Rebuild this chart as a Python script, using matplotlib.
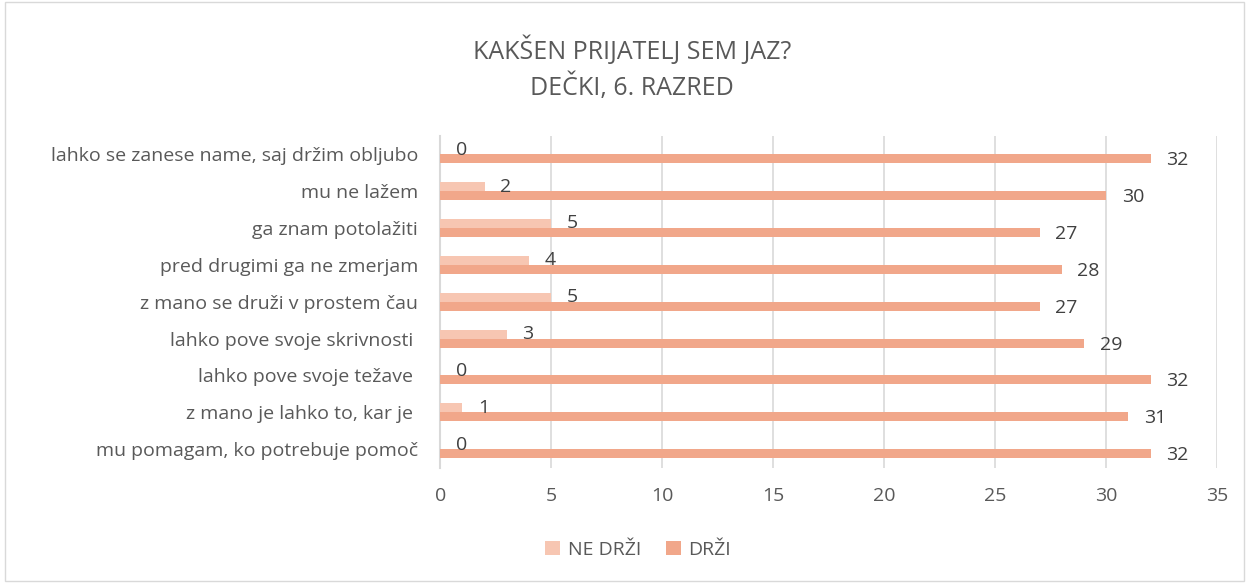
import numpy as np
import matplotlib.pyplot as plt
from matplotlib.patches import Rectangle

categories = ['lahko se zanese name, saj držim obljubo', 'mu ne lažem', 'ga znam potolažiti',
              'pred drugimi ga ne zmerjam', 'z mano se druži v prostem čau',
              'lahko pove svoje skrivnosti ', 'lahko pove svoje težave ',
              'z mano je lahko to, kar je ', 'mu pomagam, ko potrebuje pomoč']
ne_drzi = [0, 2, 5, 4, 5, 3, 0, 1, 0]
drzi = [32, 30, 27, 28, 27, 29, 32, 31, 32]

plt.rcParams['font.family'] = ['Open Sans', 'DejaVu Sans']
text_col = '#404040'
fs = 14

fig = plt.figure(figsize=(12.49, 5.83), dpi=100)
ax = fig.add_axes([0.3525, 0.198, 0.622, 0.569])

y = np.arange(len(categories))
h = 0.244
ax.barh(y - h / 2, ne_drzi, height=h, color='#F7C6B2', label='NE DRŽI', zorder=3)
ax.barh(y + h / 2, drzi, height=h, color='#F1A78A', label='DRŽI', zorder=3)

for i in range(len(categories)):
    ax.text(ne_drzi[i] + 0.7, y[i] - h / 2, str(ne_drzi[i]), va='center', ha='left', fontsize=fs, color=text_col)
    ax.text(drzi[i] + 0.7, y[i] + h / 2 + 0.04, str(drzi[i]), va='center', ha='left', fontsize=fs, color=text_col)

ax.set_xlim(0, 35)
ax.set_xticks(range(0, 36, 5))
ax.set_ylim(len(categories) - 0.5, -0.5)
ax.set_yticks(y)
ax.set_yticklabels(categories)
ax.tick_params(axis='both', length=0, labelsize=fs, labelcolor='#595959')
ax.tick_params(axis='x', pad=14)
ax.tick_params(axis='y', pad=16)
ax.grid(axis='x', color='#D9D9D9', linewidth=1.2, zorder=0)
for s in ['top', 'right', 'bottom']:
    ax.spines[s].set_visible(False)
ax.spines['left'].set_color('#D9D9D9')
ax.spines['left'].set_linewidth(1.5)

fig.text(0.506, 0.914, 'KAKŠEN PRIJATELJ SEM JAZ?', ha='center', va='center', fontsize=18, color='#595959')
fig.text(0.506, 0.851, 'DEČKI, 6. RAZRED', ha='center', va='center', fontsize=18, color='#595959')

fig.legend(loc='center', bbox_to_anchor=(0.511, 0.057), ncol=2, frameon=False, fontsize=fs,
           handlelength=0.75, handleheight=0.75, handletextpad=0.4, columnspacing=1.3,
           labelcolor='#595959')

fig.patches.append(Rectangle((0.004, 0.004), 0.992, 0.992, transform=fig.transFigure,
                             fill=False, edgecolor='#D9D9D9', linewidth=1))

fig.savefig('out.png', dpi=100)
